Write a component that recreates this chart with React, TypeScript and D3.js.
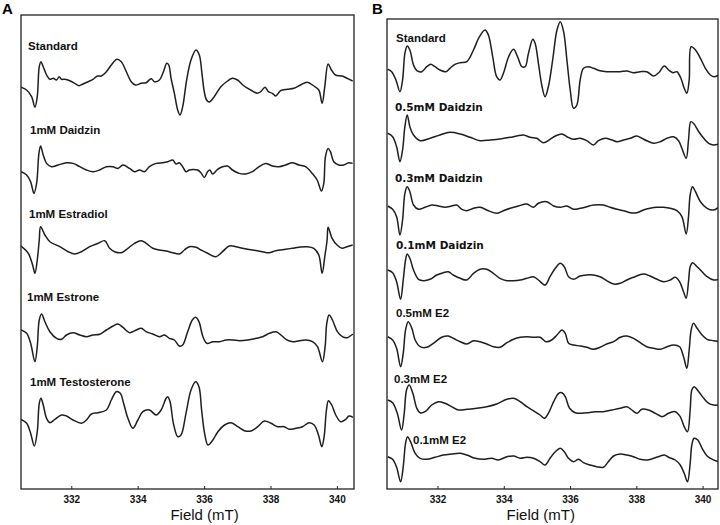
import React from "react";
import * as d3 from "d3";

const WIDTH = 720;
const HEIGHT = 525;

const FIELD_TICKS = [332, 334, 336, 338, 340];

// spectra: [field (mT), signal (a.u.)]
const aStandard: [number, number][] = [
  [330.47, -2.3], [330.64, -5], [330.79, -11.7], [330.89, -22.3], [330.96, -11.7], [331.02, 18.3],
  [331.07, 23.3], [331.14, 18.3], [331.24, 10], [331.34, 5.7], [331.44, 6.7], [331.54, 5],
  [331.62, 8.3], [331.69, 5.7], [331.79, 5.7], [331.94, 4.3], [332.09, 1.7], [332.22, -0.7],
  [332.34, 1], [332.49, 3.3], [332.64, 5.7], [332.77, 9], [332.89, 9], [333.04, 13.3],
  [333.19, 20], [333.36, 25.7], [333.49, 23.3], [333.62, 15], [333.79, 3.3], [333.92, 0],
  [334.09, 1.7], [334.24, 2.3], [334.39, 6.3], [334.49, 3.3], [334.64, 5], [334.76, 13.3],
  [334.86, 21.7], [334.92, 20], [334.99, 6.7], [335.09, -8.3], [335.19, -25], [335.26, -30],
  [335.34, -21.7], [335.46, 5], [335.59, 25], [335.74, 35], [335.84, 30], [335.92, 11.7],
  [335.99, -6.7], [336.06, -15], [336.14, -17], [336.29, -11.7], [336.49, -1.7], [336.69, 4],
  [336.84, 6.7], [336.99, 5], [337.19, -1], [337.39, -5], [337.59, -8.3], [337.69, -6.7],
  [337.82, -2.3], [337.92, -6.7], [338.04, -8.3], [338.14, -11], [338.29, -5.7], [338.49, -4.3],
  [338.69, -3.3], [338.89, 0], [339.09, 2.7], [339.29, -1], [339.44, -5], [339.54, -18.3],
  [339.62, -1.7], [339.72, 21], [339.82, 15], [339.94, 10], [340.14, 9], [340.29, 6.7], [340.46, 4],
];

const aDaidzin: [number, number][] = [
  [330.47, -5], [330.64, -8.3], [330.76, -15], [330.86, -26.7], [330.94, -16.7], [331.01, 13.3],
  [331.06, 20.7], [331.14, 11.7], [331.24, 3.3], [331.39, 0], [331.59, 1.7], [331.84, 4],
  [332.04, 3.3], [332.24, 0], [332.44, -3.3], [332.64, -5], [332.84, -3.3], [333.04, 0],
  [333.24, 0], [333.39, -1.7], [333.54, 1.7], [333.74, -1.7], [333.89, -5], [334.04, -3.3],
  [334.19, -5], [334.34, 0], [334.54, 3.3], [334.74, 4], [334.89, 5], [335.04, 6.7],
  [335.14, 2.7], [335.24, 4], [335.34, 0], [335.44, -5], [335.54, -3.3], [335.64, -2.7],
  [335.79, -3.3], [335.89, -6], [335.99, -10.7], [336.09, -5], [336.16, -3.3], [336.24, -7.3],
  [336.39, -2.7], [336.54, 0], [336.69, 0.7], [336.84, -3.3], [337.04, -6.7], [337.24, -7.3],
  [337.44, -5], [337.64, 0], [337.84, 3.3], [338.04, 0.7], [338.24, 0], [338.44, 1.7],
  [338.64, 4], [338.84, 1.7], [339.04, 0], [339.24, -6.7], [339.39, -13.3], [339.52, -24.3],
  [339.59, -16.7], [339.64, 10], [339.72, 18.3], [339.79, 15], [339.89, 5], [340.04, 1.7],
  [340.19, 1.7], [340.34, 4], [340.46, 3.3],
];

const aEstradiol: [number, number][] = [
  [330.47, 2], [330.69, -5.3], [330.82, -17], [330.89, -25.3], [330.96, -12], [331.02, 8],
  [331.06, 21.3], [331.19, 13], [331.34, 6.3], [331.64, 1.3], [331.89, -3.7], [332.09, -6],
  [332.29, -3.7], [332.54, 1.3], [332.79, 4.7], [332.99, 7.3], [333.14, -0.3], [333.29, -3.7],
  [333.49, -4.7], [333.69, -0.3], [333.89, 4.7], [334.09, 7.3], [334.24, 4.7], [334.44, -0.3],
  [334.64, -2], [334.84, -3], [335.04, -4.7], [335.24, -6], [335.39, -2], [335.54, 1.3],
  [335.74, 0.7], [335.89, -2], [336.09, -5.3], [336.34, -8.7], [336.54, -3.7], [336.74, 2],
  [336.94, 1.3], [337.14, -0.3], [337.44, -2], [337.74, -3.7], [337.94, -4.7], [338.14, -2.7],
  [338.44, -1.3], [338.64, -0.3], [338.84, 0.7], [339.09, 1.3], [339.29, -0.3], [339.44, -7],
  [339.54, -25.3], [339.62, -8.7], [339.69, 8], [339.72, 20.7], [339.84, 9.7], [339.99, 3],
  [340.14, -0.3], [340.29, 1.3], [340.46, 3],
];

const aEstrone: [number, number][] = [
  [330.47, 4], [330.64, 0.7], [330.76, -9.3], [330.89, -27.7], [330.96, -12.7], [331.02, 14],
  [331.09, 20], [331.19, 12.3], [331.34, 2.3], [331.54, -4.3], [331.69, -5.3], [331.84, -1],
  [332.04, 1.3], [332.24, -1], [332.44, -2.7], [332.64, -1], [332.84, -0.3], [333.04, 4],
  [333.24, 8], [333.39, 10], [333.54, 6.7], [333.74, 1.3], [333.94, 4], [334.09, 5.7],
  [334.24, 2.3], [334.44, 0], [334.64, -2.7], [334.79, -1], [334.94, -4.3], [335.09, -6],
  [335.24, -12], [335.34, -11], [335.49, 2.3], [335.63, 14], [335.73, 16.7], [335.83, 12.3],
  [335.95, -2.7], [336.07, -9.3], [336.25, -7.7], [336.45, -7.7], [336.65, -6], [336.85, -6],
  [337.05, -6.7], [337.3, -6], [337.55, -4.3], [337.75, -2.7], [337.95, 0.7], [338.15, 2.3],
  [338.3, -1], [338.45, -5.3], [338.65, -7.7], [338.85, -6.7], [339.05, -6], [339.25, -7.7],
  [339.4, -12.7], [339.55, -27.7], [339.63, -12.7], [339.68, 10.7], [339.75, 19], [339.85, 14],
  [340.0, 2.3], [340.15, -2.7], [340.3, -3.7], [340.47, 0],
];

const aTestosterone: [number, number][] = [
  [330.47, 2.7], [330.64, -1.3], [330.76, -11.3], [330.87, -24], [330.96, -9.7], [331.02, 18.7],
  [331.07, 23.7], [331.14, 17], [331.24, 3.7], [331.34, -0.7], [331.49, 2.7], [331.69, 7],
  [331.84, 6], [332.04, 2], [332.29, -1.3], [332.44, 2], [332.59, 8], [332.79, 9.3],
  [333.04, 12], [333.19, 22], [333.34, 30.3], [333.46, 28.7], [333.56, 18.7], [333.69, 3.7],
  [333.84, -6.3], [333.99, 2], [334.14, 10.3], [334.34, 12], [334.54, 7], [334.69, 12],
  [334.84, 23.7], [334.89, 25.3], [334.96, 20.3], [335.06, -1.3], [335.19, -14.7], [335.29, -13],
  [335.44, 8.7], [335.59, 32], [335.73, 40.3], [335.83, 35.3], [335.91, 12], [336.0, -11.3],
  [336.1, -23], [336.25, -18], [336.4, -9.7], [336.6, -3], [336.8, -0.7], [337.0, -4.7],
  [337.2, -8.7], [337.4, -9], [337.6, -4.7], [337.8, 1], [338.0, -1.3], [338.2, -4.7],
  [338.4, -4.7], [338.55, -7.3], [338.75, -6.3], [338.95, -4.7], [339.15, -0.7], [339.3, -3],
  [339.43, -13], [339.53, -24.7], [339.6, -14.7], [339.67, 12], [339.73, 21.3], [339.83, 17],
  [339.95, 7], [340.1, 0.3], [340.25, 2.7], [340.35, 6], [340.47, 4.7],
];

const bStandard: [number, number][] = [
  [330.48, 0.7], [330.6, -1.7], [330.73, -10], [330.85, -21.7], [330.93, -10], [331.0, 16.7],
  [331.07, 24], [331.15, 20], [331.26, 5], [331.36, -0.7], [331.51, -1.7], [331.66, 3.3],
  [331.78, 5.7], [331.91, 3.3], [332.06, 0], [332.24, -1.7], [332.36, 1.7], [332.51, 5.7],
  [332.67, 7.3], [332.87, 8.3], [333.07, 20], [333.25, 33.3], [333.42, 40], [333.52, 35],
  [333.65, 13.3], [333.77, -6.7], [333.87, -10], [333.99, -1.7], [334.13, 13.3], [334.28, 20.7],
  [334.4, 13.3], [334.53, 3.3], [334.63, 3.3], [334.73, 16.7], [334.86, 30.7], [334.93, 26.7],
  [335.03, 6.7], [335.13, -15], [335.23, -26.7], [335.33, -16.7], [335.46, 10], [335.59, 40],
  [335.69, 48.3], [335.79, 38.3], [335.89, 10], [335.99, -20], [336.09, -38.3], [336.19, -35],
  [336.29, -10], [336.39, 1.7], [336.54, 3.3], [336.69, 1.7], [336.89, -0.7], [337.09, -1.7],
  [337.3, -1.7], [337.5, -1.7], [337.7, -1], [337.9, -2.7], [338.1, -1.7], [338.3, -1.7],
  [338.51, -6], [338.66, -2.7], [338.83, 4], [338.96, 0], [339.09, -2.7], [339.21, -1.7],
  [339.33, -8.3], [339.43, -18.3], [339.51, -23.3], [339.58, -10], [339.64, 23.3], [339.77, 20],
  [339.92, 11.7], [340.07, 1.7], [340.22, -5], [340.34, -6.7], [340.47, -5],
];

const bDaidzin05: [number, number][] = [
  [330.48, 5.7], [330.63, 2.3], [330.75, -7.7], [330.85, -22.7], [330.93, -11], [331.0, 12.3],
  [331.07, 24], [331.15, 12.3], [331.26, 4], [331.46, -1.7], [331.76, 0.7], [332.06, 4],
  [332.36, 6.7], [332.67, 5], [332.97, 1.7], [333.27, -1.7], [333.57, -1], [333.87, 0],
  [334.18, 1.7], [334.38, 3], [334.58, 4], [334.78, 1.7], [334.98, 0.7], [335.18, -3.7],
  [335.38, -0.3], [335.54, 3], [335.74, 5], [335.89, 2.3], [336.09, -0.3], [336.29, 0.7],
  [336.49, -1.7], [336.69, -6], [336.84, -1.7], [337.04, 0.7], [337.25, -1], [337.4, -2.7],
  [337.6, -1], [337.8, 0.7], [338.0, 3], [338.15, 0.7], [338.3, -1.7], [338.51, -4.3],
  [338.71, -2.7], [338.91, 0.7], [339.11, 2.3], [339.26, -1.7], [339.36, -9.3], [339.49, -19.3],
  [339.56, -1], [339.63, 17.3], [339.71, 15.7], [339.87, 7.3], [340.02, 0.7], [340.17, -4.3],
  [340.32, -6], [340.47, -5],
];

const bDaidzin03: [number, number][] = [
  [330.48, 1], [330.63, -2.3], [330.75, -9.7], [330.85, -28], [330.93, -13], [331.0, 13.7],
  [331.07, 20.3], [331.15, 15.3], [331.26, 2], [331.41, -2.3], [331.61, -0.3], [331.81, 2],
  [332.01, 1], [332.21, -0.3], [332.41, 1], [332.56, 2], [332.72, -2.3], [332.87, -3.7],
  [333.07, -1.3], [333.27, -0.3], [333.52, -3.7], [333.77, -6.3], [333.97, -3.7], [334.18, -1.3],
  [334.43, 1], [334.68, 3], [334.88, -0.3], [335.03, 3.7], [335.28, 5.3], [335.49, 1],
  [335.69, -0.3], [335.89, 1], [336.09, -2.3], [336.29, -1.3], [336.49, 0.3], [336.69, 2],
  [336.99, 2], [337.19, -0.3], [337.4, -2.3], [337.6, -3.7], [337.8, -5.7], [338.0, -5.7],
  [338.2, -3], [338.4, -1.3], [338.61, -0.3], [338.81, -0.3], [339.01, -1.3], [339.21, -3.7],
  [339.36, -9.7], [339.49, -27], [339.56, -9.7], [339.61, 12], [339.68, 20.3], [339.77, 15.3],
  [339.92, 5.3], [340.12, -1.3], [340.32, -3], [340.47, -0.3],
];

const bDaidzin01: [number, number][] = [
  [330.48, 6], [330.63, 3.3], [330.75, -5.7], [330.87, -23.3], [330.95, -4], [331.02, 16],
  [331.07, 22], [331.15, 17.7], [331.26, 6], [331.41, -3.3], [331.56, -4.7], [331.76, -3.3],
  [331.96, 1], [332.16, 3.3], [332.31, 4.3], [332.46, 1], [332.67, -2.3], [332.87, -4],
  [333.07, 2.7], [333.27, 6.7], [333.47, 6.7], [333.67, 2.7], [333.87, -2.3], [334.08, -4.7],
  [334.28, -4.7], [334.48, -4], [334.68, -2.3], [334.88, -0.7], [335.03, -4], [335.23, -9],
  [335.38, -0.7], [335.54, 7.7], [335.69, 12.7], [335.81, 9.3], [335.94, -0.7], [336.09, -3.3],
  [336.29, 0], [336.49, 1], [336.69, 1], [336.89, -0.7], [337.09, -4.7], [337.3, -8],
  [337.5, -7.3], [337.7, -4], [337.9, -1.3], [338.2, 2], [338.4, 0], [338.61, -3.3],
  [338.81, -5.7], [339.01, -4], [339.16, -1.3], [339.29, -5.7], [339.41, -15.7], [339.49, -22.3],
  [339.56, -5.7], [339.61, 9.3], [339.68, 13.3], [339.82, 9.3], [339.97, 4.3], [340.12, -0.7],
  [340.32, -4], [340.47, -3.3],
];

const bE2_05: [number, number][] = [
  [330.48, 3.3], [330.63, 0], [330.75, -8.3], [330.87, -26.7], [330.95, -13.3], [331.02, 10],
  [331.1, 18.3], [331.21, 11.7], [331.31, 0], [331.46, -6.7], [331.66, -7.3], [331.86, -3.3],
  [332.11, 2.7], [332.31, 4], [332.46, 1.7], [332.67, -1.7], [332.87, -4], [333.07, -0.7],
  [333.27, -1.7], [333.47, -4], [333.67, -6.7], [333.87, -7.3], [334.08, -2.7], [334.28, 0.7],
  [334.48, 2.7], [334.68, 3.3], [334.88, 2.7], [335.08, 2.7], [335.26, -1.7], [335.43, 0],
  [335.59, 5], [335.74, 10], [335.84, 6.7], [335.94, -3.3], [336.09, -5], [336.29, -6],
  [336.49, -7.3], [336.69, -9.3], [336.89, -7.3], [337.09, -4], [337.3, -1.7], [337.5, 2.7],
  [337.7, 4], [337.9, 1.7], [338.1, -2.7], [338.3, -6.7], [338.51, -8.3], [338.71, -9.3],
  [338.91, -6.7], [339.11, -5], [339.29, -6.7], [339.41, -16.7], [339.51, -28.3], [339.58, -10],
  [339.64, 10], [339.71, 16.7], [339.82, 11.7], [339.97, 5], [340.12, 0.7], [340.32, -0.7],
  [340.47, -1.7],
];

const bE2_03: [number, number][] = [
  [330.48, 8], [330.63, 5.3], [330.77, -5.3], [330.9, -22], [330.98, -5.3], [331.05, 18],
  [331.13, 23], [331.24, 14.7], [331.36, -0.3], [331.46, -4.7], [331.61, -3.7], [331.81, 3],
  [332.01, 6.3], [332.21, 4.7], [332.41, 1.3], [332.61, -2], [332.87, -1.3], [333.17, -0.3],
  [333.47, 1.3], [333.77, 4], [334.08, 8.7], [334.28, 9.7], [334.48, 6.3], [334.68, 1.3],
  [334.88, -2.7], [335.08, -7], [335.21, -10.3], [335.33, -5.3], [335.49, 6.3], [335.64, 14.7],
  [335.74, 15.3], [335.84, 11.3], [335.97, -0.3], [336.14, -4.7], [336.34, -5.3], [336.54, -4.7],
  [336.74, -3.7], [336.99, -3.7], [337.25, -2], [337.5, -0.3], [337.7, 1.3], [337.85, -2],
  [338.0, -5.3], [338.15, -1.3], [338.35, -2], [338.56, -5.3], [338.76, -8.7], [338.96, -5.3],
  [339.16, -3.7], [339.31, -8.7], [339.43, -18.7], [339.53, -23.7], [339.61, -2], [339.66, 18],
  [339.73, 21.3], [339.87, 16.3], [340.02, 9.7], [340.17, 4.7], [340.32, 3], [340.47, 3],
];

const bE2_01: [number, number][] = [
  [330.48, 1.3], [330.63, -1.3], [330.75, -9.3], [330.87, -23.7], [330.95, -8.7], [331.02, 14.7],
  [331.08, 21.3], [331.17, 16.3], [331.31, 4.7], [331.46, -0.3], [331.66, -1.3], [331.91, 0.7],
  [332.16, 3], [332.41, 4], [332.67, 4.7], [332.87, 3], [333.12, -0.3], [333.37, -1.3],
  [333.62, -0.3], [333.82, -2], [334.08, 1.3], [334.28, 2], [334.48, -0.3], [334.68, 0.7],
  [334.88, -0.3], [335.08, -3.7], [335.23, -7], [335.38, -0.3], [335.54, 6.3], [335.69, 9.7],
  [335.81, 6.3], [335.94, -0.3], [336.09, -3.7], [336.24, -1.3], [336.39, -4.7], [336.59, -7],
  [336.79, -8.7], [336.99, -9.3], [337.14, -3.7], [337.3, 2], [337.5, 4], [337.7, 3],
  [337.9, 1.3], [338.1, -1.3], [338.3, -2], [338.51, -0.3], [338.71, 2], [338.83, 3],
  [338.96, 0.7], [339.16, -2], [339.31, -7], [339.43, -15.3], [339.53, -23.7], [339.61, -5.3],
  [339.66, 13], [339.73, 19.7], [339.84, 18], [339.97, 9.7], [340.12, 2], [340.32, -2],
  [340.47, -3.7],
];

const panelALabels = ["Standard", "1mM Daidzin", "1mM Estradiol", "1mM Estrone", "1mM Testosterone"];
const panelBLabels = [
  "Standard", "0.5mM Daidzin", "0.3mM Daidzin", "0.1mM Daidzin", "0.5mM E2", "0.3mM E2", "0.1mM E2",
];

const SANS = "'Liberation Sans', Arial, sans-serif";
const WIDE = "'DejaVu Sans', Verdana, sans-serif";

type Panel = {
  id: string;
  letter: string;
  letterX: number;
  left: number;
  right: number;
  top: number;
  bottom: number;
  domain: [number, number];
  series: [number, number][][];
  labels: string[];
  baselines: number[];
  labelPos: [number, number][];
  titleAt: number;
};

const panels: Panel[] = [
  {
    id: "A",
    letter: "A",
    letterX: 2,
    left: 21,
    right: 354,
    top: 15,
    bottom: 489,
    domain: [330.47, 340.5],
    series: [aStandard, aDaidzin, aEstradiol, aEstrone, aTestosterone],
    labels: panelALabels,
    baselines: [85, 166.7, 248, 334, 422],
    labelPos: [[28, 50], [30, 134], [29, 218], [27, 301], [30, 386]],
    titleAt: 336,
  },
  {
    id: "B",
    letter: "B",
    letterX: 372,
    left: 387,
    right: 718,
    top: 19,
    bottom: 489,
    domain: [330.46, 340.45],
    series: [bStandard, bDaidzin05, bDaidzin03, bDaidzin01, bE2_05, bE2_03, bE2_01],
    labels: panelBLabels,
    baselines: [70, 139, 207, 276, 340, 408, 458],
    labelPos: [[396, 42], [395, 111], [395, 182], [396, 249], [396, 317], [394, 383], [413, 444]],
    titleAt: 335.1,
  },
];

function SpectraPanel({ p }: { p: Panel }) {
  const x = d3.scaleLinear().domain(p.domain).range([p.left, p.right]);
  return (
    <g>
      <defs>
        <clipPath id={`clip-${p.id}`}>
          <rect x={p.left} y={p.top} width={p.right - p.left} height={p.bottom - p.top} />
        </clipPath>
      </defs>
      <text x={p.letterX} y={14} style={{ fontFamily: SANS, fontWeight: 700, fontSize: 15 }}>
        {p.letter}
      </text>
      <g clipPath={`url(#clip-${p.id})`}>
        {p.series.map((s, i) => {
          const b = p.baselines[i];
          const y = d3.scaleLinear().domain([-50, 50]).range([b + 50, b - 50]);
          const line = d3
            .line<[number, number]>()
            .x((d) => x(d[0]))
            .y((d) => y(d[1]))
            .curve(d3.curveCatmullRom.alpha(0.5));
          return (
            <path
              key={i}
              d={line(s) || ""}
              fill="none"
              stroke="#1e1e1e"
              strokeWidth={1.5}
              strokeLinejoin="round"
            />
          );
        })}
      </g>
      {p.labels.map((l, i) => {
        const wide = l.includes("Daidzin") && p.id === "B";
        return (
          <text
            key={l}
            x={p.labelPos[i][0]}
            y={p.labelPos[i][1]}
            style={{
              fontFamily: wide ? WIDE : SANS,
              fontWeight: 700,
              fontSize: wide ? 10.5 : 11.5,
              fill: "#111",
            }}
          >
            {l}
          </text>
        );
      })}
      <rect
        x={p.left}
        y={p.top}
        width={p.right - p.left}
        height={p.bottom - p.top}
        fill="none"
        stroke="#222"
        strokeWidth={1.3}
      />
      {FIELD_TICKS.map((t) => (
        <g key={t}>
          <line x1={x(t)} x2={x(t)} y1={p.bottom} y2={p.bottom - 3} stroke="#222" strokeWidth={1} />
          <text
            x={x(t)}
            y={503}
            textAnchor="middle"
            style={{ fontFamily: SANS, fontWeight: 700, fontSize: 10, fill: "#111" }}
          >
            {t}
          </text>
        </g>
      ))}
      <text
        x={x(p.titleAt)}
        y={520}
        textAnchor="middle"
        style={{ fontFamily: SANS, fontSize: 15, fill: "#111" }}
      >
        Field (mT)
      </text>
    </g>
  );
}

export default function App() {
  return (
    <svg
      width={WIDTH}
      height={HEIGHT}
      style={{ position: "absolute", left: 0, top: 0, background: "#fff" }}
    >
      {panels.map((p) => (
        <SpectraPanel key={p.id} p={p} />
      ))}
    </svg>
  );
}
